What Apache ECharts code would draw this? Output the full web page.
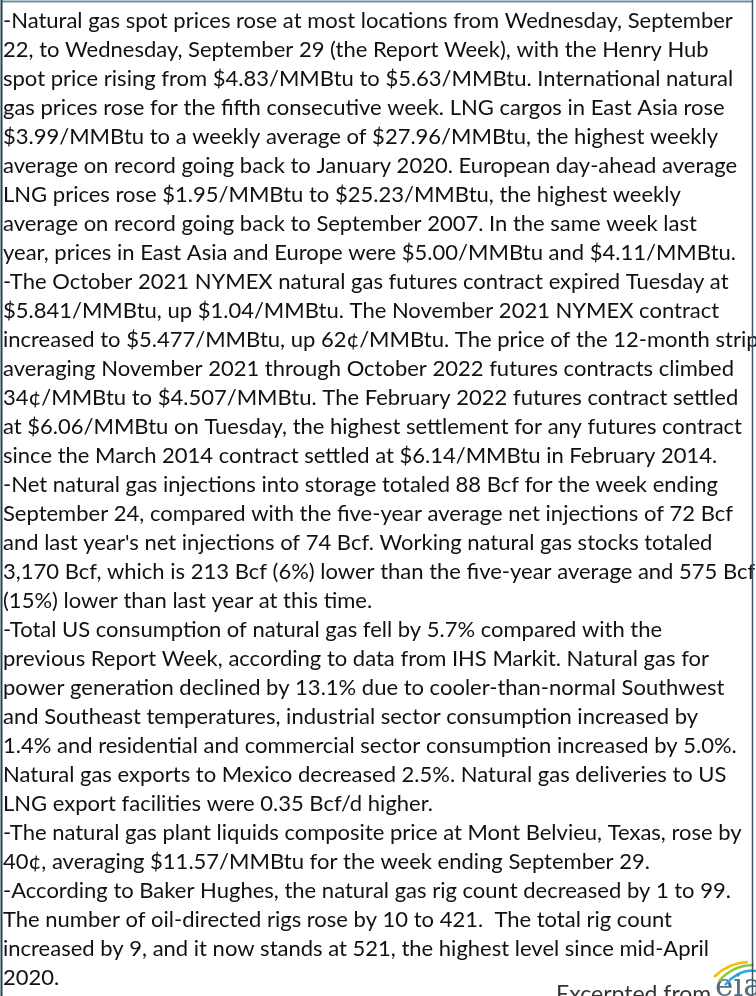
<!DOCTYPE html>
<html>
<head>
<meta charset="utf-8">
<title>Natural gas weekly update</title>
<script src="https://cdn.jsdelivr.net/npm/echarts@6/dist/echarts.min.js"></script>
<style>
    html, body { margin: 0; padding: 0; background: #fff; }
    #main { width: 756px; height: 996px; }
</style>
</head>
<body>
<div id="main"></div>
<script>
/* 文本行 (按原图换行) */
var lines = [
    '-Natural gas spot prices rose at most locations from Wednesday, September',
    '22, to Wednesday, September 29 (the Report Week), with the Henry Hub',
    'spot price rising from $4.83/MMBtu to $5.63/MMBtu. International natural',
    'gas prices rose for the fifth consecutive week. LNG cargos in East Asia rose',
    '$3.99/MMBtu to a weekly average of $27.96/MMBtu, the highest weekly',
    'average on record going back to January 2020. European day-ahead average',
    'LNG prices rose $1.95/MMBtu to $25.23/MMBtu, the highest weekly',
    'average on record going back to September 2007. In the same week last',
    'year, prices in East Asia and Europe were $5.00/MMBtu and $4.11/MMBtu.',
    '-The October 2021 NYMEX natural gas futures contract expired Tuesday at',
    '$5.841/MMBtu, up $1.04/MMBtu. The November 2021 NYMEX contract',
    'increased to $5.477/MMBtu, up 62\u00a2/MMBtu. The price of the 12-month strip',
    'averaging November 2021 through October 2022 futures contracts climbed',
    '34\u00a2/MMBtu to $4.507/MMBtu. The February 2022 futures contract settled',
    'at $6.06/MMBtu on Tuesday, the highest settlement for any futures contract',
    'since the March 2014 contract settled at $6.14/MMBtu in February 2014.',
    '-Net natural gas injections into storage totaled 88 Bcf for the week ending',
    'September 24, compared with the five-year average net injections of 72 Bcf',
    'and last year\'s net injections of 74 Bcf. Working natural gas stocks totaled',
    '3,170 Bcf, which is 213 Bcf (6%) lower than the five-year average and 575 Bcf',
    '(15%) lower than last year at this time.',
    '-Total US consumption of natural gas fell by 5.7% compared with the',
    'previous Report Week, according to data from IHS Markit. Natural gas for',
    'power generation declined by 13.1% due to cooler-than-normal Southwest',
    'and Southeast temperatures, industrial sector consumption increased by',
    '1.4% and residential and commercial sector consumption increased by 5.0%.',
    'Natural gas exports to Mexico decreased 2.5%. Natural gas deliveries to US',
    'LNG export facilities were 0.35 Bcf/d higher.',
    '-The natural gas plant liquids composite price at Mont Belvieu, Texas, rose by',
    '40\u00a2, averaging $11.57/MMBtu for the week ending September 29.',
    '-According to Baker Hughes, the natural gas rig count decreased by 1 to 99.',
    'The number of oil-directed rigs rose by 10 to 421.  The total rig count',
    'increased by 9, and it now stands at 521, the highest level since mid-April',
    '2020.'
];
var sourceLabel = 'Excerpted from';
var logoText = 'eia';

(function () {
    'use strict';
    var FONT = 'Lato';
    var chart = echarts.init(document.getElementById('main'), null, { renderer: 'canvas' });

    /* 字号按第一行宽度拟合 */
    var ctx = document.createElement('canvas').getContext('2d');
    ctx.font = '100px ' + FONT;
    var w = ctx.measureText(lines[0]).width;
    var fontSize = Math.round(100 * 730 / w * 10) / 10;

    var graphic = [];
    lines.forEach(function (t, i) {
        graphic.push({
            type: 'text',
            left: 3,
            top: 11 + i * 29 - (fontSize - 20) / 2,
            style: {
                text: t,
                fontFamily: FONT,
                fontSize: fontSize,
                fill: '#111'
            }
        });
    });

    /* 来源 */
    graphic.push({
        type: 'text',
        left: 556,
        top: 983,
        style: { text: sourceLabel, fontFamily: FONT, fontSize: fontSize + 1, fill: '#333' }
    });
    graphic.push({
        type: 'text',
        left: 715,
        top: 972,
        style: { text: logoText, fontFamily: 'DejaVu Serif', fontSize: 31, fill: '#5a6d7c' }
    });
    /* logo 弧线 */
    var arcs = [
        ['#f2c200', 714, 977, 728, 963, 748, 962],
        ['#8dc63f', 719, 981, 733, 965, 754, 965],
        ['#2aa6de', 725, 985, 740, 968, 756, 971]
    ];
    arcs.forEach(function (a) {
        graphic.push({
            type: 'bezierCurve',
            shape: { x1: a[1], y1: a[2], cpx1: a[3], cpy1: a[4], x2: a[5], y2: a[6] },
            style: { stroke: a[0], lineWidth: 2.5, fill: null }
        });
    });

    /* 边框 */
    graphic.push({ type: 'line', shape: { x1: 1, y1: 1.5, x2: 753, y2: 1.5 }, style: { stroke: '#6e8ea3', lineWidth: 2 } });
    graphic.push({ type: 'line', shape: { x1: 1.5, y1: 0, x2: 1.5, y2: 996 }, style: { stroke: '#24404f', lineWidth: 2 } });
    graphic.push({ type: 'line', shape: { x1: 752.5, y1: 0, x2: 752.5, y2: 996 }, style: { stroke: '#3a5566', lineWidth: 1.5 } });

    chart.setOption({
        backgroundColor: '#fff',
        animation: false,
        graphic: graphic
    });
})();
</script>
</body>
</html>
